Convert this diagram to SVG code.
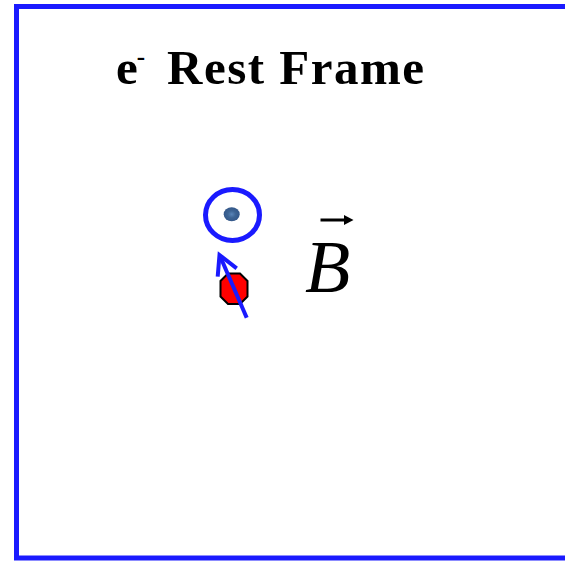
<svg xmlns="http://www.w3.org/2000/svg" width="565" height="562" viewBox="0 0 565 562">
<style>
.title{font-family:"Liberation Serif",serif;font-weight:bold;font-size:49px;fill:#000}
.b{font-family:"Liberation Serif",serif;font-style:italic;font-size:74px;fill:#000}
</style>
<defs>
<radialGradient id="dot" cx="0.5" cy="0.5" r="0.5">
<stop offset="0" stop-color="#5a85b8"/>
<stop offset="0.5" stop-color="#3d6494"/>
<stop offset="1" stop-color="#34588a"/>
</radialGradient>
</defs>
<rect id="frame" x="16.5" y="6.5" width="560" height="551.5" fill="#fff" stroke="#1a1aff" stroke-width="5"/>
<g id="title">
<text class="title" x="116" y="84">e<tspan font-size="25" dx="-1" dy="-19">-</tspan></text>
<text class="title" x="167" y="84" textLength="257" lengthAdjust="spacing">Rest Frame</text>
</g>
<g id="orbit">
<ellipse cx="232.5" cy="215" rx="27" ry="25.5" fill="none" stroke="#1a1aff" stroke-width="5"/>
<ellipse cx="231.7" cy="214.3" rx="8" ry="7" fill="url(#dot)"/>
</g>
<g id="particle">
<polygon points="228,273.5 240,273.5 247.5,281 247.5,296.5 240,304 228,304 220.5,296.5 220.5,281" fill="#ff0000" stroke="#000" stroke-width="2"/>
</g>
<g id="connectors">
<line x1="246.7" y1="317.7" x2="220" y2="256" stroke="#1a1aff" stroke-width="4"/>
<polyline points="217.7,276.7 219.5,255 236.7,268.3" fill="none" stroke="#1a1aff" stroke-width="4" stroke-linejoin="miter" stroke-linecap="butt"/>
</g>
<g id="bfield">
<text class="b" x="305" y="292">B</text>
<line x1="320.5" y1="220" x2="346" y2="220" stroke="#000" stroke-width="3"/>
<polygon points="353.5,220 344,215 344,225" fill="#000"/>
</g>
</svg>
